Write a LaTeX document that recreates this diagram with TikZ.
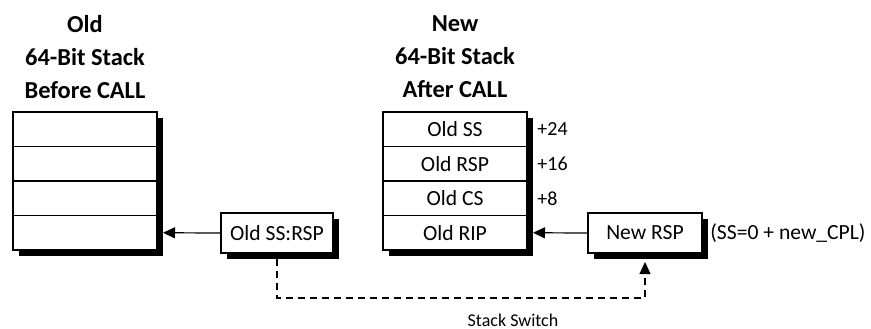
\documentclass[tikz,border=0pt]{standalone}
\usepackage{fontspec}
\setmainfont{Carlito}
\usetikzlibrary{arrows.meta,shadows,calc}
\begin{document}
\begin{tikzpicture}[x=0.5pt,y=-0.5pt,
  blksh/.style={general shadow={fill=black, shadow xshift=3pt, shadow yshift=-3pt}},
  frame/.style={draw, line width=1pt, fill=white, minimum width=72pt, minimum height=69pt, inner sep=0pt, outer sep=0pt, blksh},
  cell/.style={draw, line width=0.6pt, minimum width=72pt, minimum height=17.25pt, inner sep=0pt, outer sep=0pt, font=\fontsize{10.8}{12}\selectfont},
  regbox/.style={draw, line width=1pt, fill=white, minimum height=20pt, inner sep=0pt, outer sep=0pt, font=\fontsize{10.8}{12}\selectfont, blksh},
  ttl/.style={align=center, font=\fontsize{12.2}{16.5}\selectfont\bfseries},
  offs/.style={anchor=west, inner sep=0pt, font=\fontsize{10}{12}\selectfont},
  note/.style={inner sep=0pt, font=\fontsize{10.8}{12}\selectfont},
  arr/.style={line width=0.6pt, -{Triangle[length=6pt,width=5.5pt]}},
  sw/.style={arr, dash pattern=on 3.5pt off 2.5pt}
]
\useasboundingbox (0,0) rectangle (871,328);

% Old stack
\node[ttl] (oldt) at (85,57) {Old\\64-Bit Stack\\Before CALL};
\node[frame] (oldstk) at (85,181) {};
\node[cell, anchor=north] (o1) at (oldstk.north) {};
\node[cell, anchor=north] (o2) at (o1.south) {};
\node[cell, anchor=north] (o3) at (o2.south) {};
\node[cell, anchor=north] (o4) at (o3.south) {};
\draw[line width=1pt] (oldstk.north west) rectangle (oldstk.south east);

% New stack
\node[ttl] (newt) at (455,57) {New\\64-Bit Stack\\After CALL};
\node[frame] (newstk) at (455,181) {};
\node[cell, anchor=north] (n1) at (newstk.north) {Old SS};
\node[cell, anchor=north] (n2) at (n1.south) {Old RSP};
\node[cell, anchor=north] (n3) at (n2.south) {Old CS};
\node[cell, anchor=north] (n4) at (n3.south) {Old RIP};
\draw[line width=1pt] (newstk.north west) rectangle (newstk.south east);

\node[offs] (p24) at ([xshift=5pt]n1.east) {+24};
\node[offs] (p16) at ([xshift=5pt]n2.east) {+16};
\node[offs] (p8) at ([xshift=5pt]n3.east) {+8};

% Register boxes
\node[regbox, minimum width=56pt] (ossr) at (277,233) {Old SS:RSP};
\node[regbox, minimum width=57pt] (nrsp) at (645,233) {New RSP};
\node[note, anchor=west] (cpl) at ([xshift=4pt]nrsp.east) {(SS=0 + new\_CPL)};

% Connectors
\draw[arr] (ossr.west) -- ([xshift=3pt]o4.east);
\draw[arr] (nrsp.west) -- ([xshift=3pt]n4.east);
\draw[sw] ([yshift=-3pt]ossr.south) -- ++(0,39) -| ([yshift=-4.5pt]nrsp.south);
\node[inner sep=0pt, font=\fontsize{9}{11}\selectfont] (swl) at (513,320) {Stack Switch};
\end{tikzpicture}
\end{document}
